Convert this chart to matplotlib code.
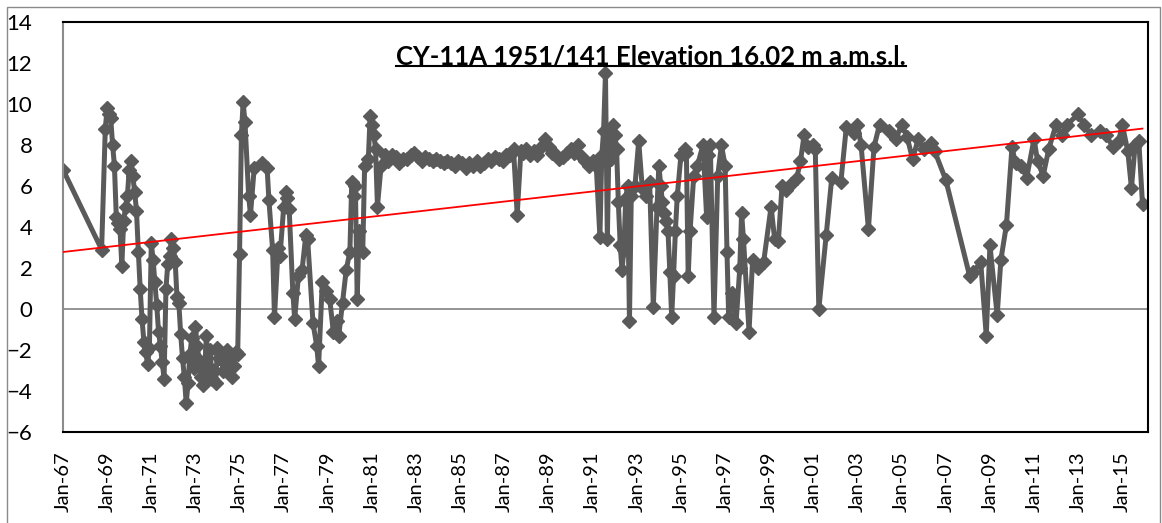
import numpy as np
import pandas as pd
import matplotlib
matplotlib.use('Agg')
import matplotlib.pyplot as plt
import matplotlib.dates as mdates
from matplotlib.lines import Line2D
from matplotlib.patches import Rectangle

plt.rcParams['font.family'] = ['Lato', 'DejaVu Sans']

title = 'CY-11A 1951/141 Elevation 16.02 m a.m.s.l.'

# groundwater level readings (m), by month
dates = [
    '1967-01', '1968-10', '1968-12',
    '1969-01', '1969-02', '1969-03', '1969-04', '1969-05', '1969-06', '1969-07', '1969-08',
    '1969-09', '1969-10', '1969-11', '1969-12',
    '1970-01', '1970-02', '1970-03', '1970-04', '1970-05', '1970-06', '1970-07', '1970-08',
    '1970-09', '1970-10', '1970-11', '1970-12',
    '1971-01', '1971-02', '1971-03', '1971-04', '1971-05', '1971-06', '1971-07', '1971-08',
    '1971-09', '1971-10', '1971-11', '1971-12',
    '1972-01', '1972-02', '1972-03', '1972-04', '1972-05', '1972-06', '1972-07', '1972-08',
    '1972-09', '1972-10', '1972-11', '1972-12',
    '1973-01', '1973-02', '1973-03', '1973-04', '1973-05', '1973-06', '1973-07', '1973-08',
    '1973-09', '1973-10', '1973-11', '1973-12',
    '1974-01', '1974-02', '1974-03', '1974-04', '1974-05', '1974-06', '1974-07', '1974-08',
    '1974-09', '1974-10', '1974-11', '1974-12',
    '1975-01', '1975-02', '1975-03', '1975-04', '1975-06', '1975-07', '1975-09',
    '1976-01', '1976-04', '1976-05', '1976-07', '1976-08', '1976-10', '1976-11',
    '1977-01', '1977-02', '1977-03', '1977-04', '1977-06', '1977-07', '1977-09', '1977-11',
    '1978-01', '1978-02', '1978-05', '1978-07', '1978-08', '1978-10', '1978-12',
    '1979-02', '1979-04', '1979-06', '1979-07', '1979-09', '1979-11',
    '1980-01', '1980-02', '1980-03', '1980-04', '1980-05', '1980-06', '1980-08', '1980-09',
    '1980-11', '1980-12',
    '1981-01', '1981-02', '1981-03', '1981-04', '1981-06', '1981-08', '1981-10', '1981-12',
    '1982-02', '1982-04', '1982-06', '1982-08', '1982-10', '1982-12',
    '1983-02', '1983-04', '1983-06', '1983-08', '1983-10', '1983-12',
    '1984-02', '1984-04', '1984-06', '1984-08', '1984-10', '1984-12',
    '1985-02', '1985-04', '1985-06', '1985-08', '1985-10', '1985-12',
    '1986-02', '1986-04', '1986-06', '1986-08', '1986-10', '1986-12',
    '1987-02', '1987-04', '1987-06', '1987-08', '1987-10', '1987-11',
    '1988-01', '1988-03', '1988-05', '1988-07', '1988-09', '1988-11',
    '1989-01', '1989-03', '1989-05', '1989-07', '1989-09', '1989-11',
    '1990-01', '1990-03', '1990-05', '1990-07', '1990-09', '1990-11',
    '1991-01', '1991-03', '1991-05', '1991-06', '1991-07', '1991-08', '1991-09', '1991-10',
    '1991-11', '1991-12',
    '1992-01', '1992-02', '1992-03', '1992-04', '1992-05', '1992-06', '1992-07', '1992-08',
    '1992-09', '1992-10', '1992-12',
    '1993-02', '1993-04', '1993-06', '1993-08', '1993-10', '1993-12',
    '1994-01', '1994-02', '1994-03', '1994-04', '1994-05', '1994-06', '1994-07', '1994-08',
    '1994-09', '1994-10', '1994-11',
    '1995-01', '1995-03', '1995-04', '1995-05', '1995-06', '1995-08', '1995-10',
    '1996-01', '1996-03', '1996-04', '1996-05', '1996-07', '1996-09', '1996-11',
    '1997-01', '1997-02', '1997-03', '1997-05', '1997-07', '1997-09', '1997-10', '1997-11',
    '1998-02', '1998-04', '1998-07', '1998-10',
    '1999-02', '1999-04', '1999-06', '1999-08', '1999-10',
    '2000-01', '2000-04', '2000-06', '2000-08', '2000-10',
    '2001-01', '2001-02', '2001-04', '2001-08', '2001-11',
    '2002-04', '2002-07', '2002-11',
    '2003-01', '2003-03', '2003-07', '2003-10',
    '2004-01', '2004-06', '2004-10',
    '2005-01', '2005-04', '2005-07', '2005-10',
    '2006-01', '2006-05', '2006-07',
    '2007-01',
    '2008-02', '2008-04', '2008-08', '2008-11',
    '2009-01', '2009-05', '2009-07', '2009-10',
    '2010-01', '2010-03', '2010-06', '2010-09',
    '2011-01', '2011-03', '2011-06', '2011-09',
    '2012-01', '2012-04', '2012-07',
    '2013-01', '2013-04', '2013-08',
    '2014-01', '2014-04', '2014-08', '2014-11',
    '2015-01', '2015-04', '2015-06', '2015-08', '2015-10', '2015-12',
]
levels = [
    6.8, 2.9, 8.8,
    9.8, 9.5, 9.3, 8.0, 7.0, 4.5, 4.2, 3.9,
    2.1, 4.3, 5.0, 5.5,
    6.8, 7.2, 6.5, 5.7, 4.8, 2.8, 1.0, -0.5,
    -1.6, -2.1, -2.7, -1.9,
    3.2, 2.4, 1.3, 0.2, -1.1, -1.8, -2.6, -3.4,
    1.0, 2.2, 2.6, 3.4,
    3.0, 2.3, 0.6, 0.3, -1.2, -2.4, -3.3, -4.6,
    -3.6, -2.2, -1.4, -2.9,
    -0.9, -1.8, -2.5, -3.3, -3.7, -3.1, -1.3, -2.8,
    -2.0, -3.4, -3.0, -3.6,
    -1.9, -2.4, -2.2, -3.0, -2.6, -2.0, -2.9, -2.4,
    -3.3, -2.8, -2.1, -2.2,
    2.7, 8.5, 10.1, 9.1, 5.5, 4.6, 6.9,
    7.1, 6.9, 5.3, 2.9, -0.4, 3.0, 2.6,
    5.0, 5.7, 5.4, 4.9, 0.8, -0.5, 1.6, 1.9,
    3.6, 3.4, -0.7, -1.8, -2.8, 1.3, 0.9,
    0.5, -1.1, -0.6, -1.3, 0.3, 1.9,
    2.8, 6.2, 5.5, 6.0, 0.5, 3.8, 2.8, 7.0,
    7.3, 9.4,
    9.0, 8.5, 7.8, 5.0, 7.0, 7.5, 7.2, 7.5,
    7.4, 7.1, 7.3, 7.3, 7.5, 7.6,
    7.4, 7.2, 7.4, 7.3, 7.2, 7.3,
    7.2, 7.1, 7.2, 7.1, 7.0, 7.2,
    7.1, 6.9, 7.1, 7.0, 7.2, 7.0,
    7.1, 7.3, 7.2, 7.4, 7.3, 7.2,
    7.5, 7.5, 7.8, 4.6, 7.7, 7.6,
    7.8, 7.5, 7.7, 7.5, 7.9, 8.3,
    7.9, 7.6, 7.5, 7.3, 7.4, 7.6,
    7.8, 7.6, 8.0, 7.4, 7.2, 7.0,
    7.2, 7.0, 3.5, 7.5, 8.7, 11.5, 3.4, 8.6,
    7.3, 9.0,
    8.5, 7.8, 5.2, 3.1, 1.9, 2.9, 5.4, 6.0,
    -0.6, 5.5, 6.0,
    8.2, 5.9, 5.5, 6.2, 0.1, 5.0,
    7.0, 6.0, 5.2, 4.7, 4.3, 3.8, 1.8, -0.4,
    1.6, 3.8, 5.5,
    7.5, 7.8, 7.6, 1.6, 3.8, 6.5, 7.0,
    8.0, 4.5, 7.5, 8.0, -0.4, 6.5, 8.0,
    7.0, 2.8, -0.4, 0.8, -0.7, 2.0, 4.7, 3.4,
    -1.1, 2.4, 2.0, 2.3,
    5.0, 3.4, 3.3, 6.0, 5.8,
    6.1, 6.4, 7.2, 8.5, 7.9,
    8.0, 7.8, 0.0, 3.6, 6.4,
    6.2, 8.9, 8.6,
    9.0, 8.0, 3.9, 7.9,
    9.0, 8.7, 8.3,
    9.0, 8.4, 7.3, 8.3,
    7.8, 8.1, 7.7,
    6.3,
    1.6, 1.8, 2.3, -1.3,
    3.1, -0.3, 2.4, 4.1,
    7.9, 7.1, 7.0, 6.4,
    8.3, 7.2, 6.5, 7.8,
    9.0, 8.5, 9.0,
    9.5, 9.0, 8.5,
    8.7, 8.5, 7.9, 8.2,
    9.0, 7.7, 5.9, 8.0, 8.2, 5.1,
]

# linear trend end points
trend_dates = ['1967-01', '2015-12']
trend_levels = [2.78, 8.80]

yticks = list(range(-6, 15, 2))
xtick_years = list(range(1967, 2016, 2))

t = pd.to_datetime(dates)
tt = pd.to_datetime(trend_dates)

fig = plt.figure(figsize=(11.62, 5.23), dpi=100)
ax = fig.add_axes([63 / 1162, 91 / 523, 1085 / 1162, 410 / 523])

ax.axhline(0, color='#8c8c8c', lw=1.3, zorder=1)
ax.plot(t, levels, color='#5a5a5a', lw=3.6, marker='D', ms=7.4, mew=1,
        mfc='#5a5a5a', mec='#5a5a5a', zorder=2)
ax.plot(tt, trend_levels, color='#ff0000', lw=1.3, zorder=3)

ax.set_ylim(-6, 14)
ax.set_yticks(yticks)
ax.set_xlim(pd.Timestamp('1967-01-01'), pd.Timestamp('2016-03-01'))
ax.set_xticks([pd.Timestamp(f'{y}-01-01') for y in xtick_years])
ax.xaxis.set_major_formatter(mdates.DateFormatter('%b-%y'))
ax.tick_params(axis='x', labelrotation=90, length=0, pad=14, labelsize=14.5)
ax.tick_params(axis='y', length=0, pad=22, labelsize=16)
for lab in ax.get_xticklabels():
    lab.set_va('top')
for sp in ax.spines.values():
    sp.set_color('black')
    sp.set_linewidth(1.5)
ax.spines['left'].set_color('#8c8c8c')

# chart frame
fig.patches.append(Rectangle((7 / 1162, -0.1), 1153 / 1162, 1.1 - 7 / 523,
                             transform=fig.transFigure, fill=False,
                             edgecolor='#8a8a8a', lw=1))

txt = ax.text(651 / 1162, 1 - 57 / 523, title, transform=fig.transFigure,
              ha='center', va='center', fontsize=18.5, fontweight='bold')

# underline the title
fig.canvas.draw()
bb = txt.get_window_extent(fig.canvas.get_renderer())
inv = fig.transFigure.inverted()
(x0, y0), (x1, _) = inv.transform([(bb.x0, bb.y0 + 3), (bb.x1, bb.y0)])
fig.add_artist(Line2D([x0, x1], [y0, y0], transform=fig.transFigure,
                      color='black', lw=1.5))

fig.savefig('out.png', dpi=100)
